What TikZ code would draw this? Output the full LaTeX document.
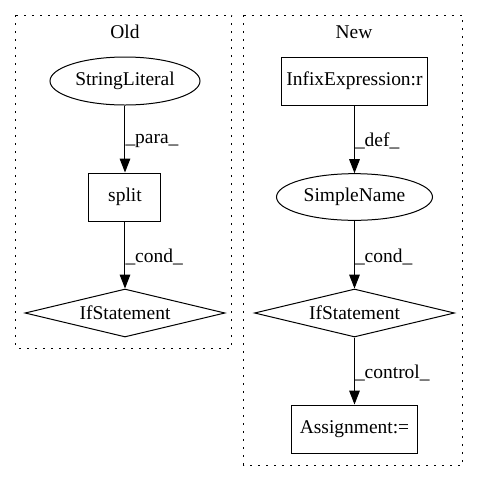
\documentclass[tikz,border=0pt]{standalone}
\usepackage{fontspec}
\setmainfont{Liberation Serif}
\usetikzlibrary{shapes.geometric,arrows.meta}
\begin{document}
\begin{tikzpicture}[x=0.75pt,y=-0.75pt,
  every node/.style={font=\fontsize{14.6pt}{16pt}\selectfont, inner sep=0pt},
  ell/.style={draw, ellipse, line width=0.75pt},
  box/.style={draw, rectangle, line width=0.75pt},
  dia/.style={draw, diamond, aspect=4.17, line width=0.75pt, minimum width=150pt, minimum height=36pt},
  edge/.style={draw, line width=0.75pt, -{Triangle[length=10.5pt,width=8pt]}},
  elabel/.style={anchor=west, yshift=-1.5pt},
  cluster/.style={draw, line width=0.75pt, dash pattern=on 1.5pt off 4.5pt}
]
\useasboundingbox (0,0) rectangle (480,480);
% clusters
\draw[cluster] (16,15) rectangle (232,348);
\draw[cluster] (244,15) rectangle (463,465);
\node (oldlabel) at (125,32) {Old};
\node (newlabel) at (354,32) {New};
% Old
\node[ell, minimum width=112.5pt, minimum height=36pt] (sl) at (125,81) {StringLiteral};
\node[box, minimum width=54pt, minimum height=36pt] (split) at (125,197) {split};
\node[dia] (if1) at (125,313) {IfStatement};
% New
\node[box, minimum width=110pt, minimum height=36pt] (infix) at (354.5,81) {InfixExpression:r};
\node[ell, minimum width=117pt, minimum height=35pt] (sn) at (354.5,197) {SimpleName};
\node[dia] (if2) at (354.5,313) {IfStatement};
\node[box, minimum width=94.5pt, minimum height=36pt] (asg) at (354.5,429) {Assignment:=};
% edges
\draw[edge] (sl) -- node[elabel] {\_para\_} (split);
\draw[edge] (split) -- node[elabel] {\_cond\_} (if1);
\draw[edge] (infix) -- node[elabel] {\_def\_} (sn);
\draw[edge] (sn) -- node[elabel] {\_cond\_} (if2);
\draw[edge] (if2) -- node[elabel] {\_control\_} (asg);
\end{tikzpicture}
\end{document}
